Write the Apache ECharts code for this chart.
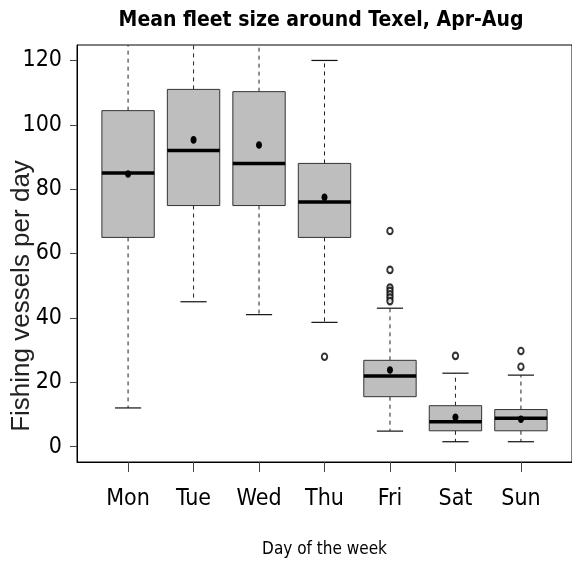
<!DOCTYPE html>
<html>
<head>
<meta charset="utf-8">
<script src="https://cdn.jsdelivr.net/npm/echarts@6/dist/echarts.min.js"></script>
<style>
html,body{margin:0;padding:0;background:#fff;}
#chart{width:572px;height:567px;}
</style>
</head>
<body>
<div id="chart"></div>
<script>
// ---- data ----
const days = ['Mon', 'Tue', 'Wed', 'Thu', 'Fri', 'Sat', 'Sun'];
const whiskerLow  = [12, 45, 41, 38.6, 4.8, 1.5, 1.5];
const quart1      = [65, 74.9, 74.9, 65, 15.5, 4.9, 4.9];
const medians     = [85, 92, 88, 76, 21.9, 7.7, 8.8];
const quart3      = [104.4, 111, 110.3, 88, 26.8, 12.7, 11.5];
const whiskerHigh = [130, 130, 130, 120, 43, 22.8, 22.2];
const means       = [84.7, 95.3, 93.7, 77.5, 23.8, 9.1, 8.5];
const outlierDay   = [4, 5, 5, 5, 5, 5, 5, 5, 6, 7, 7];
const outlierValue = [27.9, 67, 54.9, 49.4, 48.4, 47.3, 46.3, 45.2, 28.2, 29.7, 24.8];
const yTicks = [0, 20, 40, 60, 80, 100, 120];
const xTicks = [1, 2, 3, 4, 5, 6, 7];

const narrow = "'Liberation Sans Narrow', 'Arial Narrow', 'DejaVu Sans Condensed', sans-serif";

const boxData = days.map((d, i) => [i + 1, whiskerLow[i], quart1[i], medians[i], quart3[i], whiskerHigh[i], means[i]]);
const outData = outlierDay.map((d, i) => [d, outlierValue[i]]);

const chart = echarts.init(document.getElementById('chart'));
chart.setOption({
  animation: false,
  backgroundColor: '#fff',
  title: {
    text: 'Mean fleet size around Texel, Apr-Aug',
    left: 321, top: 10, textAlign: 'center', padding: 0,
    textStyle: { fontFamily: narrow, fontWeight: 'bold', fontSize: 21, color: '#000' }
  },
  grid: {
    left: 77, top: 45, width: 498, height: 417,
    show: true, borderColor: '#000', borderWidth: 1, backgroundColor: 'transparent'
  },
  xAxis: {
    type: 'value', min: 0.22, max: 7.78,
    name: 'Day of the week', nameLocation: 'middle', nameGap: 79,
    nameTextStyle: { fontFamily: narrow, fontSize: 17, color: '#000' },
    axisLine: { show: true, onZero: false, lineStyle: { color: '#000', width: 1 } },
    axisTick: { show: true, customValues: xTicks, length: 10, lineStyle: { color: '#444' } },
    axisLabel: {
      customValues: xTicks, margin: 26,
      fontFamily: narrow, fontSize: 23, color: '#000',
      formatter: v => days[Math.round(v) - 1] || ''
    },
    splitLine: { show: false }
  },
  yAxis: {
    type: 'value', min: -4.8, max: 124.8,
    axisLine: { show: true, onZero: false, lineStyle: { color: '#000', width: 1 } },
    axisTick: { show: true, customValues: yTicks, length: 7, lineStyle: { color: '#444' } },
    axisLabel: { customValues: yTicks, margin: 15, fontFamily: narrow, fontSize: 23, color: '#000' },
    splitLine: { show: false }
  },
  graphic: [{
    type: 'text', x: 22, y: 296, rotation: Math.PI / 2,
    style: {
      text: 'Fishing vessels per day', fill: '#222',
      font: "26px 'Liberation Sans', Arial, sans-serif",
      textAlign: 'center', textVerticalAlign: 'middle'
    }
  }],
  series: [{
    type: 'custom',
    clip: true,
    data: boxData,
    renderItem: function (params, api) {
      const x = api.value(0);
      const lo = api.coord([x, api.value(1)]);
      const q1 = api.coord([x, api.value(2)]);
      const md = api.coord([x, api.value(3)]);
      const q3 = api.coord([x, api.value(4)]);
      const hi = api.coord([x, api.value(5)]);
      const mn = api.coord([x, api.value(6)]);
      const bw = api.size([0.8, 0])[0];
      const cw = api.size([0.4, 0])[0];
      const cx = lo[0];
      const dash = { stroke: '#222', lineWidth: 1, lineDash: [4, 4] };
      const solid = { stroke: '#111', lineWidth: 1.2 };
      return {
        type: 'group',
        children: [
          { type: 'line', shape: { x1: cx, y1: q1[1], x2: cx, y2: lo[1] }, style: dash },
          { type: 'line', shape: { x1: cx, y1: q3[1], x2: cx, y2: hi[1] }, style: dash },
          { type: 'line', shape: { x1: cx - cw / 2, y1: lo[1], x2: cx + cw / 2, y2: lo[1] }, style: solid },
          { type: 'line', shape: { x1: cx - cw / 2, y1: hi[1], x2: cx + cw / 2, y2: hi[1] }, style: solid },
          { type: 'rect', shape: { x: cx - bw / 2, y: q3[1], width: bw, height: q1[1] - q3[1] },
            style: { fill: '#bebebe', stroke: '#333', lineWidth: 1 } },
          { type: 'line', shape: { x1: cx - bw / 2, y1: md[1], x2: cx + bw / 2, y2: md[1] },
            style: { stroke: '#000', lineWidth: 3.5 } },
          { type: 'ellipse', shape: { cx: cx, cy: mn[1], rx: 3, ry: 3.8 }, style: { fill: '#000' } }
        ]
      };
    }
  }, {
    type: 'scatter',
    data: outData,
    symbol: 'emptyCircle',
    symbolSize: [5.5, 6.5],
    itemStyle: { color: '#000', borderColor: '#000', borderWidth: 0.8 }
  }]
});
</script>
</body>
</html>
